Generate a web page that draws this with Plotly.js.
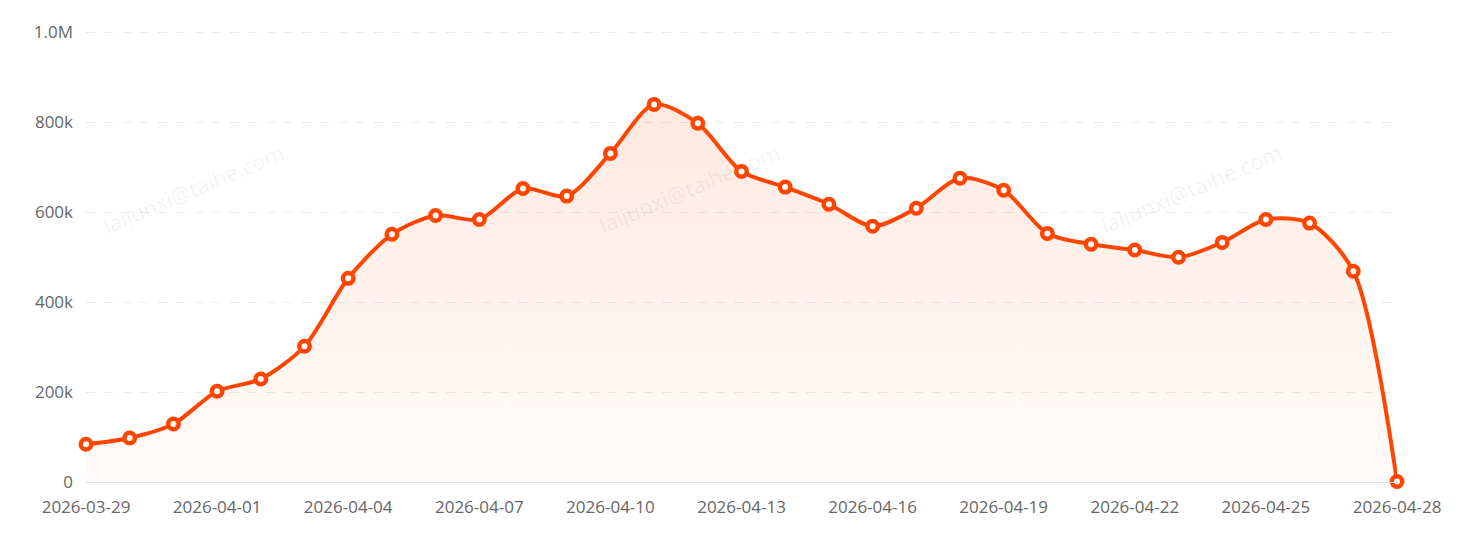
<!DOCTYPE html>
<html><head><meta charset="utf-8">
<script src="https://cdn.plot.ly/plotly-3.0.1.min.js"></script>
<style>html,body{margin:0;padding:0;background:#fff}#chart{width:1463px;height:536px}</style>
</head><body><div id="chart"></div>
<script>
const dates = ["2026-03-29","2026-03-30","2026-03-31","2026-04-01","2026-04-02","2026-04-03","2026-04-04","2026-04-05","2026-04-06","2026-04-07","2026-04-08","2026-04-09","2026-04-10","2026-04-11","2026-04-12","2026-04-13","2026-04-14","2026-04-15","2026-04-16","2026-04-17","2026-04-18","2026-04-19","2026-04-20","2026-04-21","2026-04-22","2026-04-23","2026-04-24","2026-04-25","2026-04-26","2026-04-27","2026-04-28"];
const values = [84000,98000,129000,202000,229000,302000,453000,551000,593000,584000,653000,636000,731000,840000,798000,691000,656000,618000,569000,609000,676000,649000,553000,529000,516000,500000,533000,584000,576000,469000,1000];
const yTickVals = [0,200000,400000,600000,800000,1000000];
const yTickText = ["0","200k","400k","600k","800k","1.0M"];
const xTickVals = ["2026-03-29","2026-04-01","2026-04-04","2026-04-07","2026-04-10","2026-04-13","2026-04-16","2026-04-19","2026-04-22","2026-04-25","2026-04-28"];
const watermark = "laijunxi@taihe.com";
const wmPos = [["2026-03-31 11:00",655000],["2026-04-11 19:00",655000],["2026-04-23 07:00",655000]];

const trace = {
  x: dates, y: values, type: 'scatter', mode: 'lines+markers',
  line: {color: '#ff4500', width: 4, shape: 'spline', smoothing: 0.8},
  marker: {size: 10.5, color: '#ffffff', line: {color: '#ff4500', width: 4.5}},
  fill: 'tozeroy',
  fillgradient: {type: 'vertical', colorscale: [[0, 'rgba(255,69,0,0.02)'], [1, 'rgba(255,69,0,0.12)']]},
  cliponaxis: false,
  hoverinfo: 'x+y'
};

const annotations = wmPos.map(p => ({
  x: p[0], y: p[1], xref: 'x', yref: 'y', text: watermark, showarrow: false,
  textangle: -23, font: {family: 'Open Sans, sans-serif', size: 22, color: 'rgba(0,0,0,0.06)'}
}));

const layout = {
  width: 1463, height: 536,
  margin: {l: 86, r: 66, t: 28, b: 54},
  paper_bgcolor: '#ffffff', plot_bgcolor: '#ffffff',
  showlegend: false,
  font: {family: 'Open Sans, sans-serif', size: 17, color: '#666'},
  xaxis: {
    type: 'date', range: ["2026-03-29", "2026-04-28"],
    tickvals: xTickVals, tickformat: '%Y-%m-%d',
    showgrid: false, zeroline: false,
    showline: true, linecolor: '#e0e0e6', linewidth: 1,
    ticks: 'outside', ticklen: 10, tickcolor: 'rgba(0,0,0,0)',
    tickfont: {size: 17, color: '#666'}
  },
  yaxis: {
    range: [0, 1010000], tickvals: yTickVals, ticktext: yTickText,
    showgrid: true, gridcolor: '#ebebeb', griddash: 'dash', gridwidth: 1,
    zeroline: false, showline: false, ticks: '', ticklabelstandoff: 12,
    tickfont: {size: 17, color: '#666'}
  },
  annotations: annotations
};

Plotly.newPlot('chart', [trace], layout, {displayModeBar: false, staticPlot: true});
</script></body></html>
